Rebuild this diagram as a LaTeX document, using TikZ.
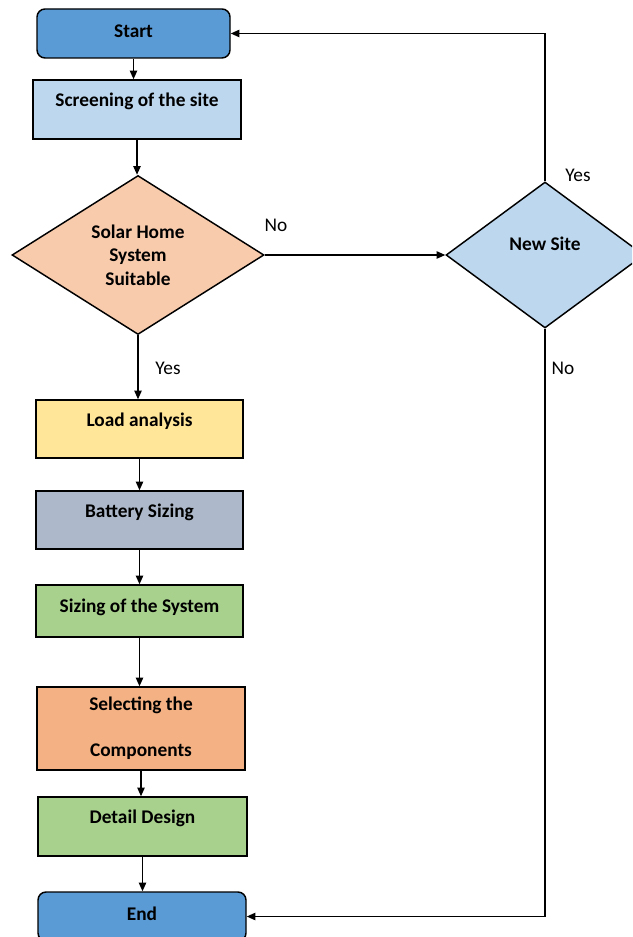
\documentclass[tikz,border=0pt]{standalone}
\usepackage{fontspec}
\setmainfont{Carlito}
\usetikzlibrary{shapes.geometric,arrows.meta}
\definecolor{termblue}{HTML}{5B9BD5}
\definecolor{paleblue}{HTML}{BDD7EE}
\definecolor{peach}{HTML}{F8CBAD}
\definecolor{loadyellow}{HTML}{FFE699}
\definecolor{slate}{HTML}{ADB9CA}
\definecolor{leafgreen}{HTML}{A9D18E}
\definecolor{apricot}{HTML}{F4B183}
\begin{document}
\begin{tikzpicture}[x=0.75pt,y=-0.75pt,
	box/.style={draw, line width=1.1pt, font=\bfseries\fontsize{14.5}{17.6}\selectfont, align=center, inner sep=0pt},
	terminal/.style={box, rounded corners=6pt, fill=termblue, minimum width=144.75pt, minimum height=36.75pt},
	process/.style={box, minimum width=155.25pt},
	decision/.style={box, diamond, aspect=1.6},
	up/.style={text height=10pt, text depth=#1},
	flow/.style={-{Triangle[length=6.5pt,width=5.5pt]}, line width=1.1pt},
	lbl/.style={font=\fontsize{14.5}{17.6}\selectfont, inner sep=0pt}]
	\clip (0,0) rectangle (632,937);
	% main column
	\node [terminal, up=4pt] (start) at (133.5,33.5) {Start};
	\node [process, fill=paleblue, minimum width=156pt, minimum height=44.25pt, up=14.5pt] (screen) at (137,109.5) {Screening of the site};
	\node [decision, fill=peach, minimum width=189pt, minimum height=119.25pt] (solar) at (138,255) {Solar Home\\System\\Suitable};
	\node [process, fill=loadyellow, minimum height=43.5pt, up=14pt] (load) at (139.5,429) {Load analysis};
	\node [process, fill=slate, minimum height=43.5pt, up=14pt] (battery) at (139.5,520) {Battery Sizing};
	\node [process, fill=leafgreen, minimum height=39pt, up=8pt] (sizing) at (139.5,611) {Sizing of the System};
	\node [process, fill=apricot, minimum width=156pt, minimum height=62.25pt] (select) at (141,728.5) {Selecting the\\[17pt]Components};
	\node [process, fill=leafgreen, minimum width=156.75pt, minimum height=44.25pt, up=14.5pt] (detail) at (142.5,826.5) {Detail Design};
	\node [terminal, minimum width=156pt, up=4pt] (end) at (142,916.5) {End};
	% side decision
	\node [decision, fill=paleblue, minimum width=148.5pt, minimum height=109.5pt, up=16pt] (newsite) at (545,255) {New Site};
	% arrows
	\draw [flow] (start.south) -- (start.south |- screen.north);
	\draw [flow] (screen.south) -- (screen.south |- solar.north);
	\draw [flow] (solar.south) -- (solar.south |- load.north);
	\draw [flow] (load.south) -- (battery.north);
	\draw [flow] (battery.south) -- (sizing.north);
	\draw [flow] (sizing.south) -- (sizing.south |- select.north);
	\draw [flow] (select.south) -- (select.south |- detail.north);
	\draw [flow] (detail.south) -- (detail.south |- end.north);
	\draw [flow] (solar.east) -- (newsite.west);
	\draw [flow] (newsite.north) |- (start.east);
	\draw [flow] (newsite.south) |- (end.east);
	% labels
	\node [lbl] (noa) at (276,225) {No};
	\node [lbl] (yesa) at (168,368) {Yes};
	\node [lbl] (yesb) at (578,175) {Yes};
	\node [lbl] (nob) at (563,368) {No};
\end{tikzpicture}
\end{document}
